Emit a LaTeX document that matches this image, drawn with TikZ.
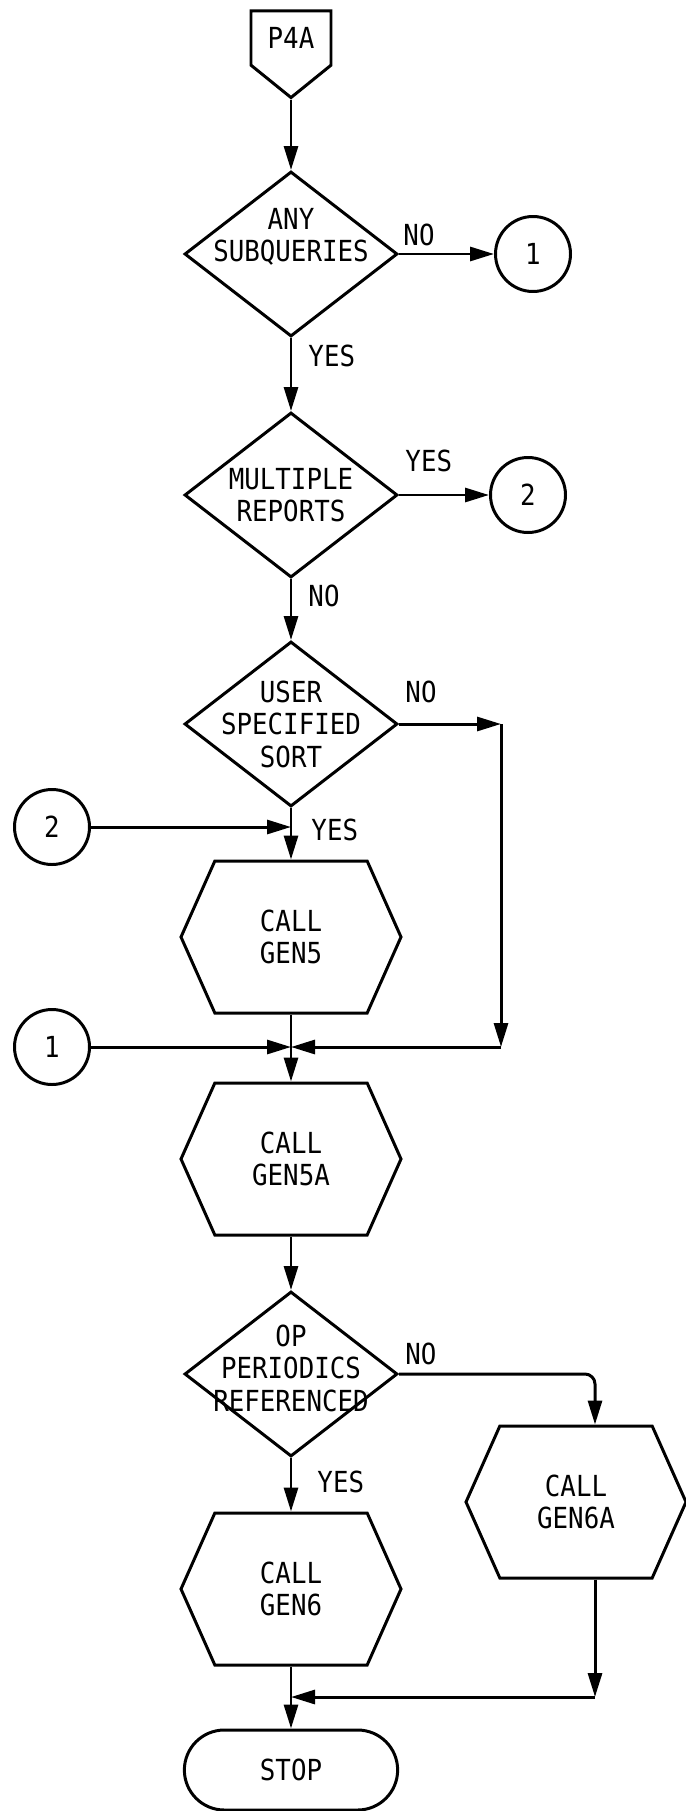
\documentclass[tikz,border=0pt]{standalone}
\usepackage{fontspec}
\setmainfont[FakeStretch=0.89]{DejaVu Sans Mono}
\usetikzlibrary{shapes.geometric, shapes.misc, shapes.symbols, arrows.meta, positioning, calc}

\begin{document}
\begin{tikzpicture}[x=0.2mm, y=-0.2mm,
    every node/.style={font=\fontsize{16.5}{18.5}\selectfont},
    wire/.style={line width=1.7pt},
    flow/.style={wire, -{Triangle[length=4.8mm, width=2.8mm]}},
    decision/.style={diamond, draw, wire, minimum width=42.6mm, minimum height=33mm, inner sep=0pt},
    callbox/.style={signal, signal to=east and west, signal pointer angle=132, draw, wire,
        minimum width=44mm, minimum height=30.4mm, align=center},
    connector/.style={circle, draw, wire, minimum size=15mm, inner sep=0pt},
    offpage/.style={signal, signal to=south, signal from=nowhere, signal pointer angle=102,
        draw, wire, minimum width=16mm, minimum height=15.6mm},
    terminal/.style={rounded rectangle, draw, wire, minimum width=45mm, minimum height=16mm},
    answer/.style={inner sep=0pt}]
    \useasboundingbox (0,0) rectangle (685,1811);
    \fill[white] (0,0) rectangle (685,1811);

    % Main column
    \node[offpage] (p4a) at (291,38) {P4A};
    \node[decision, label={[align=center, yshift=3.4mm]center:ANY\\SUBQUERIES}] (q1) at (291,254) {};
    \node[decision, label={[align=center]center:MULTIPLE\\REPORTS}] (q2) at (291,495) {};
    \node[decision, label={[align=center]center:USER\\SPECIFIED\\SORT}] (q3) at (291,724) {};
    \node[callbox] (g5) at (291,937) {CALL\\GEN5};
    \node[callbox] (g5a) at (291,1159) {CALL\\GEN5A};
    \node[decision, label={[align=center, yshift=1.2mm]center:OP\\PERIODICS\\REFERENCED}] (q4) at (291,1374) {};
    \node[callbox] (g6) at (291,1589) {CALL\\GEN6};
    \node[terminal] (stop) at (291,1770) {STOP};
    \node[callbox] (g6a) at (576,1502) {CALL\\GEN6A};

    % Connector circles
    \node[connector] (c1r) at (533,254) {1};
    \node[connector] (c2r) at (528,495) {2};
    \node[connector] (c2l) at (52,827) {2};
    \node[connector] (c1l) at (52,1047) {1};

    % Junctions and corners
    \coordinate (j2) at (291,827);
    \coordinate (j1) at (291,1047);
    \coordinate (j3) at (291,1697);
    \coordinate (c3a) at (501,724);
    \coordinate (c3b) at (501,1047);
    \coordinate (c4a) at (595,1374);
    \coordinate (c4b) at (595,1697);

    % Flow lines
    \draw[flow] (p4a.south) -- (q1.north);
    \draw[flow] (q1.east) -- (c1r.west) node[pos=0, above right=1.4mm and 0.6mm, answer] {NO};
    \draw[flow] (q1.south) -- (q2.north) node[pos=0.24, right=3.2mm, answer] {YES};
    \draw[flow] (q2.east) -- (c2r.west) node[pos=0, above right=4.4mm and 1mm, answer] {YES};
    \draw[flow] (q2.south) -- (q3.north) node[pos=0.27, right=3.2mm, answer] {NO};
    \draw[flow] (q3.east) -- (c3a) node[pos=0, above right=4mm and 1mm, answer] {NO};
    \draw[flow] (c3a) -- (c3b);
    \draw[flow] (q3.south) -- (g5.north) node[pos=0.42, right=3.8mm, answer] {YES};
    \draw[flow] (c2l.east) -- (j2);
    \draw[wire] (g5.south) -- (j1);
    \draw[flow] (c1l.east) -- (j1);
    \draw[flow] (c3b) -- (j1);
    \draw[flow] (j1) -- (g5a.north);
    \draw[flow] (g5a.south) -- (q4.north);
    \draw[flow, rounded corners=2mm] (q4.east) -- (c4a) -- (c4a |- g6a.north);
    \path (q4.east) node[above right=1.8mm and 1.2mm, answer] {NO};
    \draw[flow] (q4.south) -- (g6.north) node[pos=0.45, right=5mm, answer] {YES};
    \draw[flow] (c4a |- g6a.south) -- (c4b);
    \draw[flow] (c4b) -- (j3);
    \draw[wire] (g6.south) -- (j3);
    \draw[flow] (j3) -- (stop.north);
\end{tikzpicture}
\end{document}
